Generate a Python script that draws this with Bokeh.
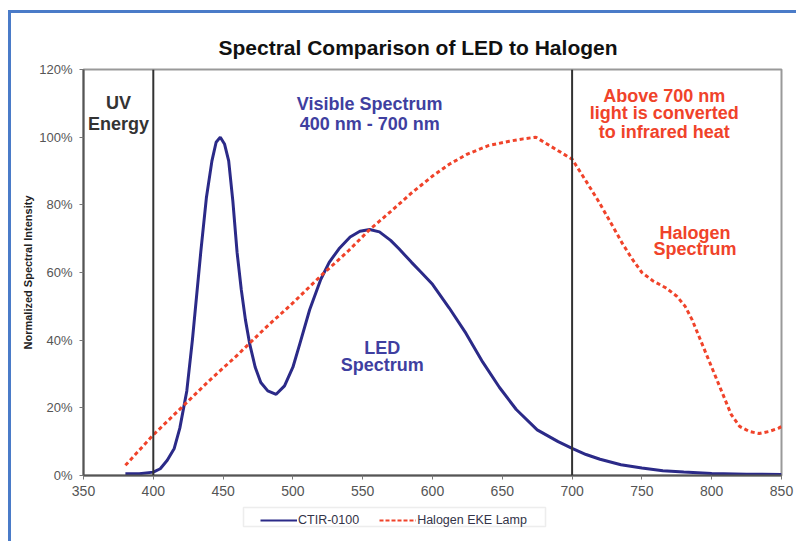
from bokeh.plotting import figure
from bokeh.layouts import column
from bokeh.models import (Label, Span, Legend, LegendItem, FixedTicker, PrintfTickFormatter,
                          Range1d, BoxAnnotation)
from bokeh.embed import file_html
from bokeh.resources import INLINE

# ---- data ----
led_nm = [380, 390, 400, 405, 410, 415, 419, 424, 428, 431, 434, 438, 442, 445, 448,
          451, 454, 457, 460, 463, 466, 469, 473, 477, 482, 488, 494, 500, 505, 512,
          520, 526, 533, 541, 548, 555, 562, 570, 576, 585, 592, 600, 612, 624, 636,
          648, 660, 675, 690, 700, 710, 720, 735, 750, 765, 780, 800, 825, 850]
led_pct = [0.5, 0.5, 1.0, 2.0, 4.5, 8, 14, 25, 40, 53, 66, 82, 93, 98.5, 100,
           98, 93, 81, 66, 55, 46, 39, 32, 27.5, 25, 24, 26.5, 32, 39, 49,
           58, 63, 67, 70.5, 72.2, 72.7, 72, 69.5, 67, 63, 60, 56.5, 49.5, 42, 33.5,
           26, 19.5, 13.5, 10, 8, 6.2, 4.8, 3.2, 2.2, 1.4, 1.0, 0.6, 0.4, 0.3]

hal_nm = [380, 390, 400, 420, 440, 460, 480, 500, 520, 540, 555, 570, 585, 600, 612,
          625, 640, 655, 665, 674, 682, 690, 700, 710, 719, 728, 736, 743, 750, 758,
          767, 775, 781, 786, 791, 797, 803, 809, 814, 820, 827, 834, 841, 848, 850]
hal_pct = [3, 7.5, 12, 20, 28, 35.5, 43.5, 51, 59, 66.5, 72.7, 78, 83.5, 88.5, 92,
           95, 97.5, 98.8, 99.5, 100, 98, 96, 93.5, 87, 81, 74.5, 68.6, 64, 60, 57.5,
           55.5, 53, 50, 46, 41, 35, 29, 23, 18, 14.5, 13, 12.4, 13, 14, 14.5]

x_ticks = [350, 400, 450, 500, 550, 600, 650, 700, 750, 800, 850]
y_ticks = [0, 20, 40, 60, 80, 100, 120]
region_bounds = [400, 700]
series_labels = ["CTIR-0100", "Halogen EKE Lamp"]

NAVY = "#2b2a88"
RED = "#f0432a"
VIS = "#3f3fa0"
FONT = "Liberation Sans"

# annotation texts: (text, x_nm, y_pct, colour)
notes = [
    ("UV", 375, 110.0, "#333333"),
    ("Energy", 375, 103.8, "#333333"),
    ("Visible Spectrum", 555, 109.7, VIS),
    ("400 nm - 700 nm", 555, 103.8, VIS),
    ("Above 700 nm", 766, 112.3, RED),
    ("light is converted", 766, 107.0, RED),
    ("to infrared heat", 766, 101.4, RED),
    ("Halogen", 788, 71.8, RED),
    ("Spectrum", 788, 66.8, RED),
    ("LED", 564, 37.8, VIS),
    ("Spectrum", 564, 32.8, VIS),
]

p = figure(width=785, height=492, output_backend="svg", toolbar_location=None,
           x_range=Range1d(350, 850), y_range=Range1d(0, 120),
           min_border_left=72, min_border_right=15, min_border_top=56, min_border_bottom=30)

p.title.text = "Spectral Comparison of LED to Halogen"
p.title.align = "left"
p.title.offset = 135
p.title.text_font = FONT
p.title.text_font_size = "21px"
p.title.text_font_style = "bold"
p.title.text_color = "#111111"
p.title.standoff = 21

p.grid.visible = False
p.outline_line_color = "#999999"
p.outline_line_width = 2
p.background_fill_color = "white"
p.border_fill_color = "white"

p.xaxis.ticker = FixedTicker(ticks=x_ticks)
p.yaxis.ticker = FixedTicker(ticks=y_ticks)
p.yaxis.formatter = PrintfTickFormatter(format="%d%%")
for ax in (p.xaxis, p.yaxis):
    ax.axis_line_color = "#555555"
    ax.axis_line_width = 2
    ax.major_tick_line_color = "#777777"
    ax.major_tick_out = 4
    ax.major_tick_in = 0
    ax.minor_tick_line_color = None
    ax.major_label_text_font = FONT
    ax.major_label_text_color = "#555555"
p.xaxis.major_label_text_font_size = "14px"
p.yaxis.major_label_text_font_size = "13px"
p.xaxis.major_label_standoff = 6
p.yaxis.major_label_standoff = 7
p.yaxis.axis_label = "Normalized Spectral Intensity"
p.yaxis.axis_label_text_font = FONT
p.yaxis.axis_label_text_font_size = "11px"
p.yaxis.axis_label_text_font_style = "bold"
p.yaxis.axis_label_text_color = "#222222"
p.yaxis.axis_label_standoff = 2

for b in region_bounds:
    p.add_layout(Span(location=b, dimension="height", line_color="#333333", line_width=2))

p.line(led_nm, led_pct, line_color=NAVY, line_width=3)
p.line(hal_nm, hal_pct, line_color=RED, line_width=3, line_dash="4 3")

for text, x, y, c in notes:
    p.add_layout(Label(x=x, y=y, text=text, text_color=c, text_font=FONT,
                       text_font_size="18px", text_font_style="bold",
                       text_align="center", text_baseline="middle"))

# legend strip below the chart; its frame is aligned with the chart's frame,
# and its ranges are in pixels of that strip
lf = figure(width=785, height=36, output_backend="svg", toolbar_location=None,
            x_axis_type=None, y_axis_type=None, min_border=0,
            x_range=Range1d(0, 698), y_range=Range1d(0, 36))
lf.outline_line_color = None
lf.grid.visible = False
lf.border_fill_color = "white"
lf.background_fill_color = "white"
lf.add_layout(BoxAnnotation(left=160, right=462, bottom=15, top=34,
                            fill_color="white", fill_alpha=1.0,
                            line_color="#c4c4c4", line_width=1.5))
# off-range sample renderers that only supply the legend glyph styles
s1 = lf.line(x=[-20, -10], y=[-20, -20], line_color=NAVY, line_width=2)
s2 = lf.line(x=[-20, -10], y=[-20, -20], line_color=RED, line_width=2, line_dash="4 2")
legend = Legend(items=[LegendItem(label=series_labels[0], renderers=[s1]),
                       LegendItem(label=series_labels[1], renderers=[s2])],
                orientation="horizontal", location=(177, 14))
legend.label_text_font = FONT
legend.label_text_font_size = "12.5px"
legend.label_text_color = "#333348"
legend.border_line_color = None
legend.background_fill_alpha = 0
legend.padding = 3
legend.spacing = 20
legend.margin = 0
legend.glyph_width = 37
legend.glyph_height = 12
legend.label_standoff = 1
legend.label_height = 12
lf.add_layout(legend, "center")

layout = column(p, lf, spacing=0,
                styles={"border-left": "3px solid #4a7bc8", "border-top": "3px solid #4a7bc8",
                        "margin-left": "8px", "margin-top": "10px"})

open("out.html", "w").write(file_html(layout, INLINE))
